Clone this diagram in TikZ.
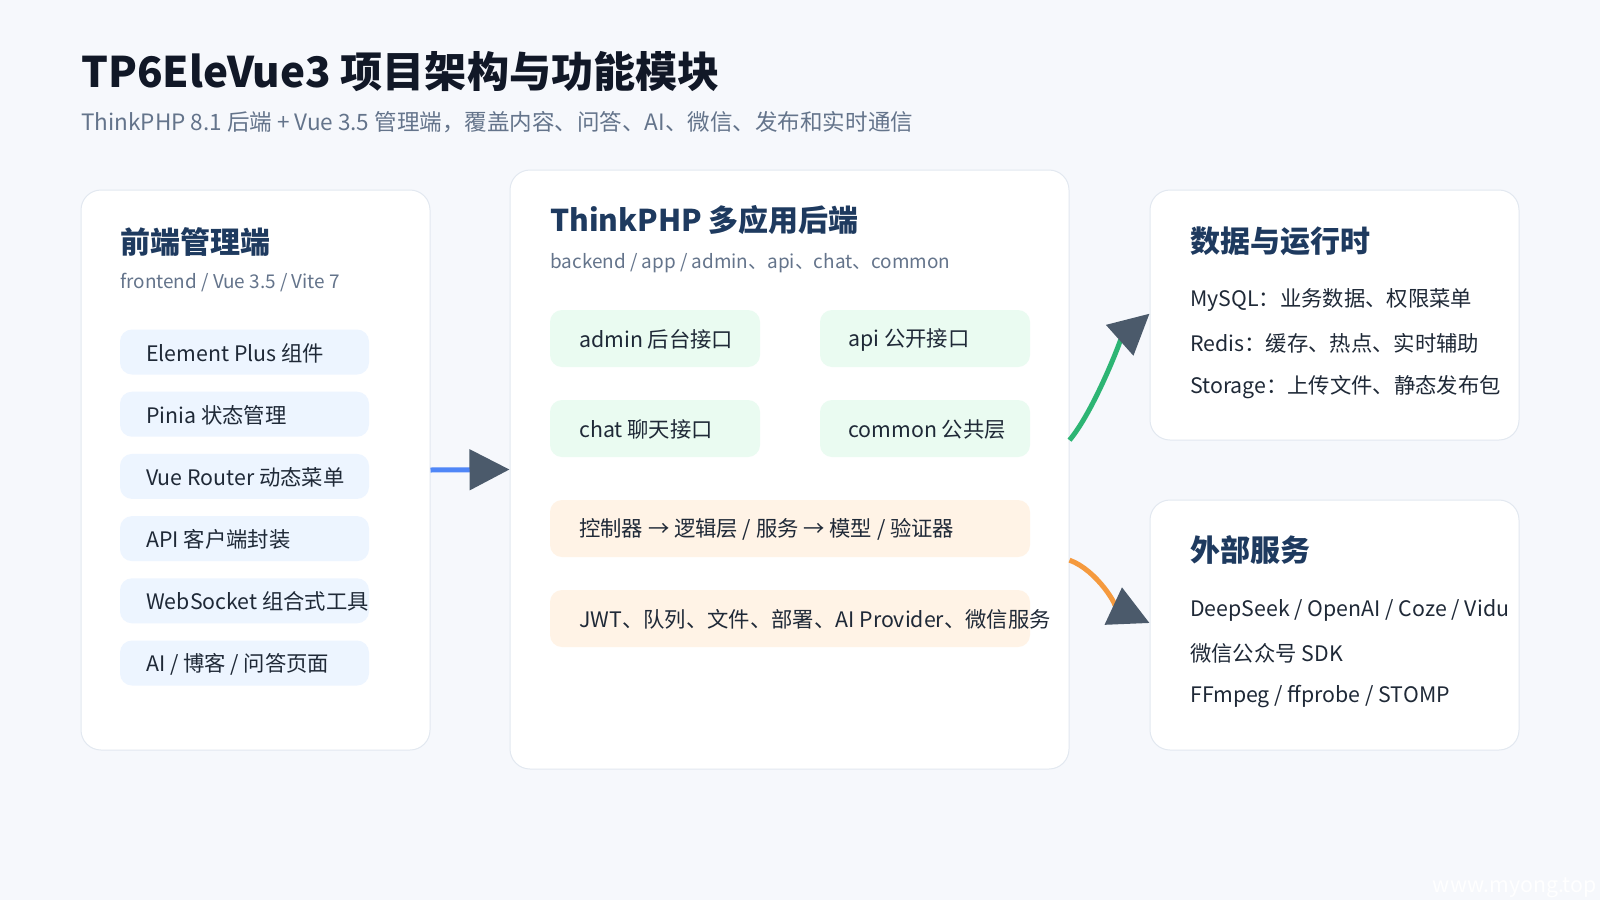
\documentclass[tikz,border=0pt]{standalone}
\usepackage{fontspec}
\setmainfont{Noto Sans CJK SC}
\usetikzlibrary{arrows.meta}

\definecolor{bg}{HTML}{F6F8FC}
\definecolor{edge}{HTML}{E2E8F0}
\definecolor{titleink}{HTML}{111827}
\definecolor{headink}{HTML}{1E3A5F}
\definecolor{ink}{HTML}{1F2937}
\definecolor{muted}{HTML}{64748B}
\definecolor{chipblue}{HTML}{EDF5FF}
\definecolor{chipgreen}{HTML}{EAFBF1}
\definecolor{chiporange}{HTML}{FFF3E6}
\definecolor{lineblue}{HTML}{4F86F7}
\definecolor{linegreen}{HTML}{2DB574}
\definecolor{lineorange}{HTML}{F59A3E}
\definecolor{tipgray}{HTML}{4B5A6B}

\begin{document}
\begin{tikzpicture}[
        x=0.75pt, y=-0.75pt,
        every node/.style={inner sep=0pt, anchor=west, text=ink, font=\fontsize{16pt}{19pt}\selectfont},
        panel/.style={rectangle, draw=edge, line width=0.75pt, fill=white, rounded corners=15pt, anchor=center},
        chip/.style={rectangle, rounded corners=9pt, anchor=center},
        head/.style={font=\fontsize{22.5pt}{26pt}\selectfont\bfseries, text=headink},
        sub/.style={font=\fontsize{14.2pt}{17pt}\selectfont, text=muted},
        link/.style={line width=3.75pt, -{Triangle[length=30pt, width=30pt, color=tipgray]}}
    ]
        \useasboundingbox[fill=bg] (0,0) rectangle (1600,900);

        \node[font=\fontsize{31.6pt}{36pt}\selectfont\bfseries, text=titleink] (title) at (81,72) {TP6EleVue3 项目架构与功能模块};
        \node[font=\fontsize{16.9pt}{20pt}\selectfont, text=muted] (subtitle) at (81,122) {ThinkPHP 8.1 后端 + Vue 3.5 管理端，覆盖内容、问答、AI、微信、发布和实时通信};

        % frontend
        \node[panel, minimum width=261.75pt, minimum height=420pt] (front) at (255.5,470) {};
        \node[head] at (120,242) {前端管理端};
        \node[sub]  at (120,283) {frontend / Vue 3.5 / Vite 7};
        \foreach \txt [count=\i] in {Element Plus 组件, Pinia 状态管理, Vue Router 动态菜单, API 客户端封装, WebSocket 组合式工具, AI / 博客 / 问答页面} {
            \node[chip, fill=chipblue, minimum width=186.75pt, minimum height=33.75pt] (fe\i) at (244.5,{352+62.2*(\i-1)}) {};
            \node at (146,{353+62.2*(\i-1)}) {\txt};
        }

        % backend
        \node[panel, minimum width=419.25pt, minimum height=449.25pt] (back) at (789.5,469.5) {};
        \node[head] at (550,220) {ThinkPHP 多应用后端};
        \node[sub]  at (550,263) {backend / app / admin、api、chat、common};

        \node[chip, fill=chipgreen, minimum width=157.5pt, minimum height=42.75pt] (admin)  at (655,338.5) {};
        \node at (579,339.5) {admin 后台接口};
        \node[chip, fill=chipgreen, minimum width=157.5pt, minimum height=42.75pt] (api)    at (925,338.5) {};
        \node at (848,339.5) {api 公开接口};
        \node[chip, fill=chipgreen, minimum width=157.5pt, minimum height=42.75pt] (chat)   at (655,428.5) {};
        \node at (579,429.5) {chat 聊天接口};
        \node[chip, fill=chipgreen, minimum width=157.5pt, minimum height=42.75pt] (common) at (925,428.5) {};
        \node at (848,429.5) {common 公共层};

        \node[chip, fill=chiporange, minimum width=360pt, minimum height=42.75pt] (layers) at (790,528.5) {};
        \node at (579,529.5) {控制器 → 逻辑层 / 服务 → 模型 / 验证器};
        \node[chip, fill=chiporange, minimum width=360pt, minimum height=42.75pt] (infra)  at (790,618.5) {};
        \node at (579,619.5) {JWT、队列、文件、部署、AI Provider、微信服务};

        % data + runtime
        \node[panel, minimum width=276.75pt, minimum height=187.5pt] (data) at (1334.5,315) {};
        \node[head] at (1190,241) {数据与运行时};
        \node at (1190,300) {MySQL：业务数据、权限菜单};
        \node at (1190,343) {Redis：缓存、热点、实时辅助};
        \node at (1190,387) {Storage：上传文件、静态发布包};

        % external services
        \node[panel, minimum width=276.75pt, minimum height=187.5pt] (ext) at (1334.5,625) {};
        \node[head] at (1190,550) {外部服务};
        \node at (1190,610) {DeepSeek / OpenAI / Coze / Vidu};
        \node at (1190,653) {微信公众号 SDK};
        \node at (1190,697) {FFmpeg / ffprobe / STOMP};

        \draw[link, lineblue] (front.east) -- (back.west);
        \draw[link, linegreen] ([yshift=22pt]back.east) .. controls +(25,-30) and +(-28,25) .. ([yshift=1pt]data.west);
        \draw[link, lineorange] ([yshift=-68pt]back.east) .. controls +(28,10) and +(-30,-14) .. ([yshift=1.5pt]ext.west);

        \node[text=white, font=\fontsize{16pt}{20pt}\selectfont, anchor=east] (mark) at (1597,888) {www.myong.top};
    \end{tikzpicture}
\end{document}
